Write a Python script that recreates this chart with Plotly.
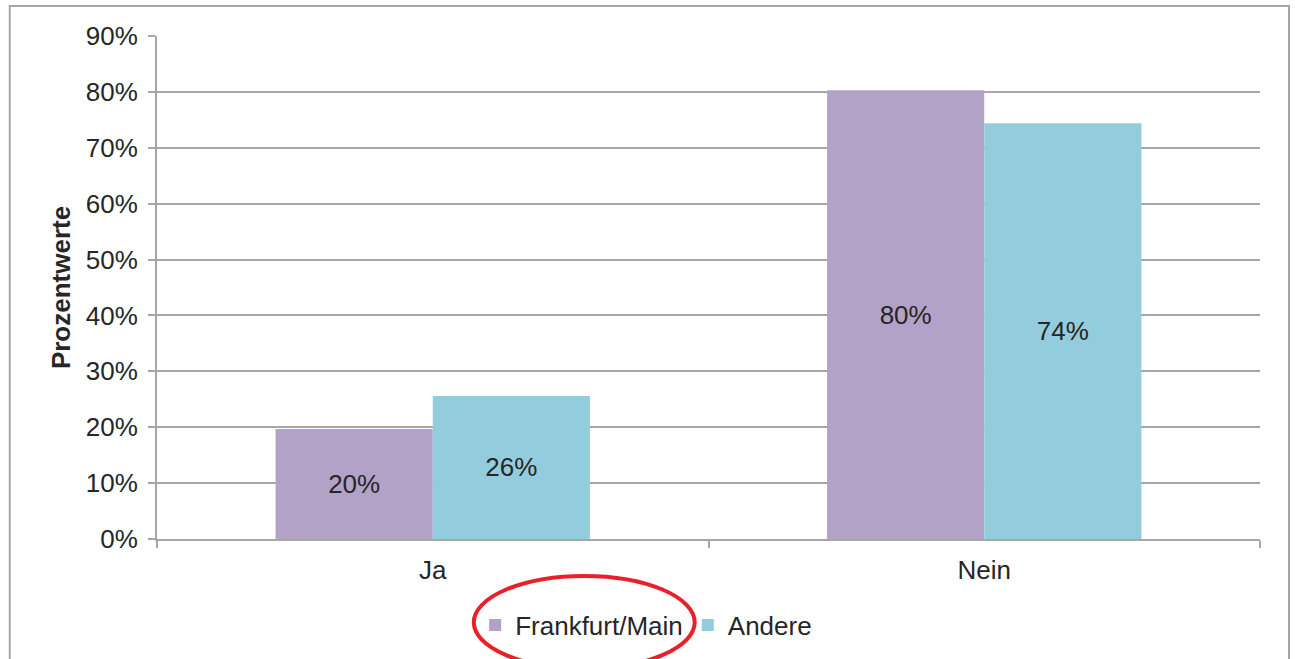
import plotly.graph_objects as go

categories = ["Ja", "Nein"]
frankfurt = [19.7, 80.3]
andere = [25.6, 74.4]
series_names = ["Frankfurt/Main", "Andere"]
colors = ["#B3A2C7", "#93CDDD"]
ytick_vals = [0, 10, 20, 30, 40, 50, 60, 70, 80, 90]
ytick_text = [f"{v}%" for v in ytick_vals]

FONT = "Liberation Sans, Arial"

fig = go.Figure()
for name, vals, col in zip(series_names, [frankfurt, andere], colors):
    fig.add_trace(go.Bar(
        x=categories, y=vals, name=name, marker=dict(color=col, line=dict(width=0)),
        texttemplate="%{y:.0f}%", textposition="inside", insidetextanchor="middle",
        textfont=dict(color="#262626", size=26, family=FONT),
        hoverinfo="skip",
    ))

fig.update_layout(
    width=1295, height=659,
    barmode="group", bargap=0.43, bargroupgap=0,
    plot_bgcolor="white", paper_bgcolor="white",
    margin=dict(l=157, r=35, t=36, b=119),
    font=dict(family=FONT, size=26, color="#262626"),
    uniformtext=dict(minsize=26, mode="show"),
    yaxis=dict(range=[0, 90], tickvals=ytick_vals, ticktext=ytick_text,
               showgrid=True, gridcolor="#A6A6A6", gridwidth=1.5,
               showline=True, linecolor="#A6A6A6", linewidth=2,
               ticks="outside", ticklen=7, tickcolor="#A6A6A6", tickwidth=1.5,
               zeroline=False, tickfont=dict(size=26), ticklabelstandoff=5,
               title=dict(text="<b>Prozentwerte</b>", font=dict(size=26), standoff=8)),
    xaxis=dict(showline=True, linecolor="#A6A6A6", linewidth=2,
               ticks="outside", ticklen=7, tickcolor="#A6A6A6", tickwidth=2,
               tickson="boundaries", showgrid=False, tickfont=dict(size=26),
               ticklabelstandoff=7),
    legend=dict(orientation="h", x=0.4435, xanchor="center", y=-0.169, yanchor="middle",
                font=dict(size=26), itemwidth=30, traceorder="normal",
                bgcolor="rgba(0,0,0,0)"),
    shapes=[
        dict(type="rect", xref="paper", yref="paper", x0=-0.1335, x1=1.0263, y0=-0.3, y1=1.0595,
             line=dict(color="#A6A6A6", width=2), layer="below"),
        dict(type="circle", xref="paper", yref="paper", x0=0.2872, x1=0.4875, y0=-0.258, y1=-0.0734,
             line=dict(color="#E8202A", width=4)),
    ],
)

fig.write_html("out.html", config={"displayModeBar": False},
               post_script="document.body.style.margin='0';")
